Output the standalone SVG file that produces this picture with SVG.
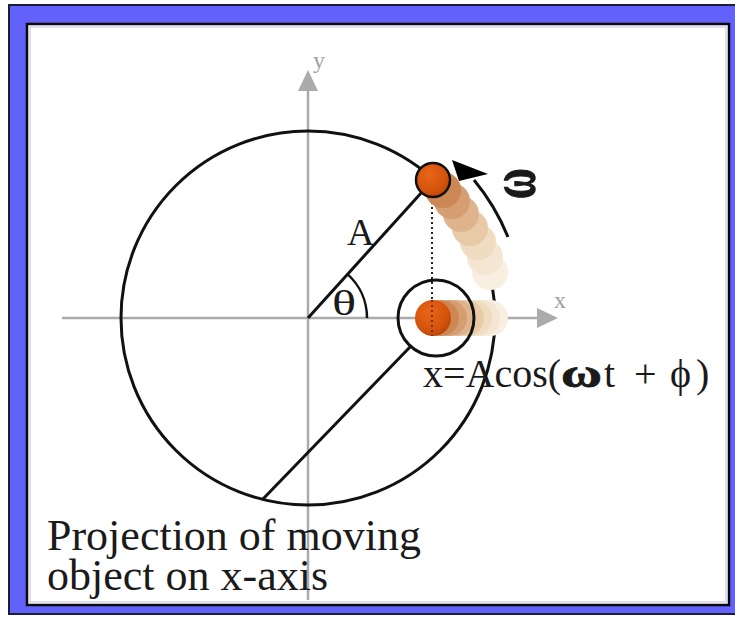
<svg xmlns="http://www.w3.org/2000/svg" width="735" height="617" viewBox="0 0 735 617">
  <style>
    .txt { font-family: "Liberation Serif", "Times New Roman", serif; fill: #1a1a1a; }
    .axis { stroke: #ababab; stroke-width: 2.5; fill: none; }
    .axislbl { font-family: "Liberation Serif", serif; fill: #a0a0a0; font-size: 24px; }
    .ink { stroke: #111; fill: none; }
  </style>
  <defs>
    <radialGradient id="ballGrad" cx="0.4" cy="0.35" r="0.7">
      <stop offset="0" stop-color="#e8661a"/>
      <stop offset="0.7" stop-color="#d3530c"/>
      <stop offset="1" stop-color="#b84306"/>
    </radialGradient>
  </defs>

  <!-- frame -->
  <rect x="9" y="5" width="727" height="609" fill="#6262fa" stroke="#1c1c3a" stroke-width="2"/>
  <rect x="27" y="24" width="702" height="581" fill="#ffffff" stroke="#0a0a0a" stroke-width="2.5"/>
  <rect x="30" y="27" width="696" height="575" fill="none" stroke="#d4d4f4" stroke-width="1.5"/>

  <!-- axes -->
  <g id="axes">
    <line class="axis" x1="62" y1="318" x2="540" y2="318"/>
    <polygon points="558,318 537,308 537,328" fill="#ababab"/>
    <line class="axis" x1="308" y1="600" x2="308" y2="88"/>
    <polygon points="308,70 298,91 318,91" fill="#ababab"/>
    <text class="axislbl" x="554" y="308">x</text>
    <text class="axislbl" x="313" y="68">y</text>
  </g>

  <!-- reference circle -->
  <g id="circle">
    <circle class="ink" cx="308" cy="318" r="187" stroke-width="3"/>
  </g>

  <!-- connectors: radius, projection drop line, label pointer, angle arc, rotation arrow -->
  <g id="connectors">
    <line class="ink" x1="308" y1="318" x2="422" y2="192" stroke-width="3"/>
    <line x1="432" y1="197" x2="432" y2="318" stroke="#222" stroke-width="2" stroke-dasharray="2,3"/>
    <line class="ink" x1="262" y1="500" x2="410" y2="347" stroke-width="3"/>
    <path class="ink" d="M367,318 A59,59 0 0,0 347.2,273.9" stroke-width="2.5"/>
    <path class="ink" d="M508,237 A216,216 0 0,0 474,180" stroke-width="3"/>
    <polygon points="452,160 459,181 488,174" fill="#000"/>
  </g>

  <!-- moving object and its trail on the circle -->
  <g id="object-trail">
    <circle cx="490" cy="272" r="18" fill="#f8efe1"/>
    <circle cx="485" cy="257" r="18" fill="#f4e6d2"/>
    <circle cx="478" cy="242" r="18" fill="#efdcc1"/>
    <circle cx="470" cy="228" r="18" fill="#e8caa8"/>
    <circle cx="461" cy="214" r="18" fill="#dfb48d"/>
    <circle cx="452" cy="201" r="18" fill="#d59d72"/>
    <circle cx="443" cy="190" r="18" fill="#cc8754"/>
    <circle cx="433" cy="180" r="17" fill="url(#ballGrad)" stroke="#111" stroke-width="2.5"/>
  </g>

  <!-- projection on the x axis -->
  <g id="projection">
    <circle cx="490" cy="318" r="18" fill="#f8efe1"/>
    <circle cx="482" cy="318" r="18" fill="#f4e6d2"/>
    <circle cx="474" cy="318" r="18" fill="#efdcc1"/>
    <circle cx="466" cy="318" r="18" fill="#e8caa8"/>
    <circle cx="457" cy="318" r="18" fill="#dfb48d"/>
    <circle cx="449" cy="318" r="18" fill="#d59d72"/>
    <circle cx="441" cy="318" r="18" fill="#cc8754"/>
    <circle cx="433" cy="318" r="18" fill="url(#ballGrad)"/>
    <line x1="432" y1="300" x2="432" y2="336" stroke="#5a2000" stroke-width="1.5" stroke-dasharray="2,3"/>
    <circle class="ink" cx="436" cy="318" r="38" stroke-width="3"/>
  </g>

  <!-- labels -->
  <g id="labels">
    <text class="txt" x="347" y="245" font-size="38">A</text>
    <text class="txt" font-size="36" transform="translate(332,315) scale(1.4,1)">θ</text>
    <text class="txt" font-weight="bold" font-size="42" stroke="#1a1a1a" stroke-width="1" transform="translate(534,199) rotate(-90) scale(1,1.5)">ω</text>
    <text class="txt" font-size="40" y="387"><tspan x="423">x=Acos(</tspan></text>
    <text class="txt" font-weight="bold" font-size="40" stroke="#1a1a1a" stroke-width="0.8" transform="translate(561,387) scale(1.4,1)">ω</text>
    <text class="txt" font-size="40" y="387"><tspan x="604">t</tspan><tspan x="634">+</tspan><tspan x="670">ϕ</tspan><tspan x="696">)</tspan></text>
    <text class="txt" font-size="44" x="47" y="550">Projection of moving</text>
    <text class="txt" font-size="44" x="47" y="590">object on x-axis</text>
  </g>
</svg>
